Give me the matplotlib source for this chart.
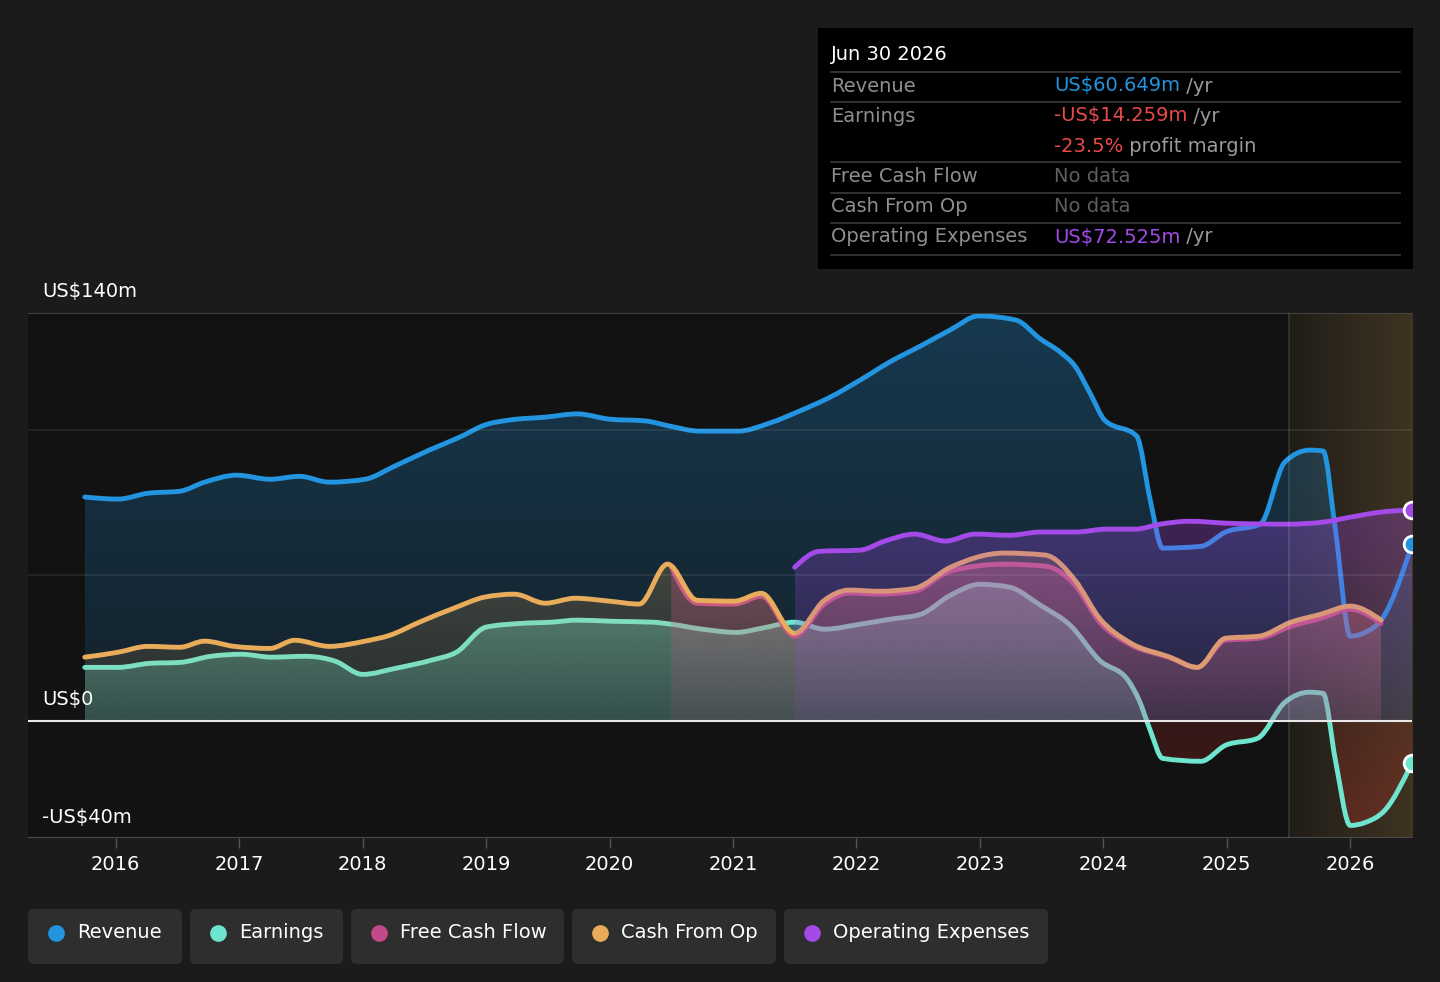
import numpy as np
import matplotlib.pyplot as plt
from matplotlib.patches import FancyBboxPatch, Rectangle, PathPatch
from matplotlib.path import Path
from matplotlib.colors import to_rgb, LinearSegmentedColormap

# ---- data (US$m) ----
rev_x = [2015.75, 2016.02, 2016.26, 2016.52, 2016.72, 2016.98, 2017.25, 2017.49, 2017.73, 2018.02,
         2018.26, 2018.54, 2018.79, 2018.99, 2019.19, 2019.48, 2019.74, 2020.0, 2020.29, 2020.49,
         2020.73, 2021.04, 2021.3, 2021.54, 2021.79, 2022.03, 2022.27, 2022.52, 2022.76, 2022.99,
         2023.29, 2023.49, 2023.65, 2023.77, 2023.9, 2024.01, 2024.27, 2024.38, 2024.48, 2024.79,
         2024.99, 2025.27, 2025.47, 2025.67, 2025.78, 2025.88, 2026.0, 2026.12, 2026.26, 2026.5]
rev_y = [76.9, 76.2, 78.2, 78.9, 82.0, 84.4, 83.0, 84.0, 82.0, 83.0,
         87.5, 93.0, 97.5, 101.6, 103.3, 104.3, 105.4, 103.6, 103.0, 101.2,
         99.5, 99.5, 102.3, 106.4, 111.2, 117.0, 123.2, 128.7, 134.2, 139.0,
         137.6, 131.1, 126.6, 121.8, 111.9, 103.3, 97.8, 75.8, 59.4, 60.0,
         64.9, 67.6, 88.9, 93.0, 92.7, 65.5, 29.2, 30.5, 35.3, 60.649]

earn_x = [2015.75, 2016.02, 2016.28, 2016.52, 2016.77, 2017.02, 2017.26, 2017.54, 2017.78, 2018.0,
          2018.27, 2018.56, 2018.76, 2019.0, 2019.29, 2019.53, 2019.74, 2020.02, 2020.35, 2020.5,
          2020.75, 2021.03, 2021.23, 2021.5, 2021.74, 2022.03, 2022.27, 2022.52, 2022.76, 2023.0,
          2023.24, 2023.49, 2023.73, 2023.97, 2024.2, 2024.29, 2024.38, 2024.48, 2024.79, 2024.99,
          2025.25, 2025.47, 2025.67, 2025.78, 2025.88, 2026.0, 2026.12, 2026.28, 2026.5]
earn_y = [18.5, 18.5, 19.9, 20.2, 22.3, 23.0, 22.0, 22.3, 20.6, 16.1,
          18.2, 21.0, 23.7, 32.3, 33.6, 34.0, 34.7, 34.3, 34.0, 33.3,
          31.6, 30.5, 31.9, 34.0, 31.6, 33.3, 35.0, 36.7, 43.2, 47.0,
          46.0, 39.8, 33.0, 20.9, 14.1, 7.2, -3.1, -12.7, -13.7, -8.2,
          -5.8, 6.5, 10.0, 9.6, -13.4, -35.7, -34.7, -30.5, -14.259]

cfo_x = [2015.75, 2016.02, 2016.26, 2016.52, 2016.72, 2016.96, 2017.25, 2017.45, 2017.73, 2018.02,
         2018.22, 2018.46, 2018.74, 2018.99, 2019.23, 2019.48, 2019.72, 2020.0, 2020.24, 2020.47,
         2020.71, 2021.01, 2021.23, 2021.5, 2021.74, 2021.94, 2022.19, 2022.47, 2022.76, 2023.2,
         2023.53, 2023.77, 2023.97, 2024.21, 2024.54, 2024.76, 2024.99, 2025.26, 2025.52, 2025.76,
         2026.0, 2026.25]
cfo_y = [22.0, 23.7, 25.7, 25.4, 27.5, 25.7, 25.0, 27.8, 25.7, 27.5,
         29.5, 34.0, 38.8, 42.6, 43.6, 40.5, 42.2, 41.2, 40.2, 53.9,
         41.5, 41.2, 43.9, 30.2, 41.5, 45.0, 44.6, 45.6, 52.8, 57.7,
         57.0, 48.4, 35.3, 27.1, 22.0, 18.5, 28.5, 29.2, 34.0, 36.7,
         39.5, 34.7]

fcf_x = [2020.5, 2020.71, 2021.01, 2021.23, 2021.5, 2021.74, 2021.94, 2022.19, 2022.47, 2022.76,
         2023.2, 2023.53, 2023.77, 2023.97, 2024.21, 2024.54, 2024.76, 2024.99, 2025.26, 2025.52,
         2025.76, 2026.0, 2026.25]
fcf_y = [53.0, 40.5, 40.2, 42.9, 29.2, 40.2, 44.0, 43.6, 44.6, 51.5,
         53.9, 53.2, 46.7, 34.0, 26.5, 21.8, 18.5, 27.8, 28.5, 32.6,
         35.3, 38.4, 33.6]

opex_x = [2021.5, 2021.7, 2022.03, 2022.23, 2022.47, 2022.72, 2022.96, 2023.24, 2023.49, 2023.78,
          2024.02, 2024.26, 2024.46, 2024.7, 2025.02, 2025.5, 2025.78, 2026.0, 2026.24, 2026.5]
opex_y = [52.8, 58.3, 58.7, 61.8, 64.2, 61.8, 64.2, 63.8, 64.9, 64.9,
          65.9, 65.9, 67.6, 68.6, 67.9, 67.6, 68.3, 70.0, 71.7, 72.525]

names = ["Revenue", "Earnings", "Free Cash Flow", "Cash From Op", "Operating Expenses"]
colors = ["#2394df", "#6ee6cf", "#c4498a", "#e8ac5a", "#a44ae8"]
year_ticks = list(range(2016, 2027))
forecast_start = 2025.5

BG = "#1b1b1b"
PLOT_BG = "#121212"
FS = 14


def smooth_path(x, y):
    """monotone-x cubic path through the points (like d3 curveMonotoneX)"""
    x = np.asarray(x, float)
    y = np.asarray(y, float)
    n = len(x)
    h = np.diff(x)
    s = np.diff(y) / h
    m = np.zeros(n)
    for i in range(1, n - 1):
        p = (s[i - 1] * h[i] + s[i] * h[i - 1]) / (h[i - 1] + h[i])
        m[i] = (np.sign(s[i - 1]) + np.sign(s[i])) * min(abs(s[i - 1]), abs(s[i]), 0.5 * abs(p))
    m[0] = (3 * s[0] - m[1]) / 2
    m[-1] = (3 * s[-1] - m[-2]) / 2
    verts = [(x[0], y[0])]
    codes = [Path.MOVETO]
    for i in range(n - 1):
        d = h[i] / 3
        verts += [(x[i] + d, y[i] + m[i] * d), (x[i + 1] - d, y[i + 1] - m[i + 1] * d), (x[i + 1], y[i + 1])]
        codes += [Path.CURVE4] * 3
    return verts, codes


def grad_image(ax, clip, color, x0, x1, y0, y1, a_near, a_far, z):
    # vertical alpha gradient: a_far at y1 (away from zero), a_near at y0 (zero)
    r, g, b = to_rgb(color)
    arr = np.zeros((256, 1, 4))
    arr[..., 0], arr[..., 1], arr[..., 2] = r, g, b
    arr[:, 0, 3] = np.linspace(a_far, a_near, 256)
    if y1 < y0:
        arr = arr[::-1]
        y0, y1 = y1, y0
    im = ax.imshow(arr, extent=[x0, x1, y0, y1], aspect="auto", origin="upper",
                   interpolation="bilinear", zorder=z)
    im.set_clip_path(clip, transform=ax.transData)


fig = plt.figure(figsize=(14.4, 9.82), dpi=100, facecolor=BG)
ax = fig.add_axes([28 / 1440, 1 - 838 / 982, 1384 / 1440, 525 / 982])
ax.set_facecolor(PLOT_BG)

# forecast region: gradient from faint to brown
grad = np.linspace(0, 1, 256).reshape(1, -1)
ax.imshow(grad, extent=[forecast_start, 2026.5, -40, 140], aspect="auto",
          cmap=LinearSegmentedColormap.from_list(
              "fc", [(0.42, 0.34, 0.2, 0.16), (0.42, 0.34, 0.2, 0.5)]),
          zorder=1.5, interpolation="bilinear")

series = [
    (rev_x, rev_y, colors[0], 0.30, 0.12),
    (earn_x, earn_y, colors[1], 0.42, 0.20),
    (fcf_x, fcf_y, colors[2], 0.35, 0.12),
    (cfo_x, cfo_y, colors[3], 0.22, 0.08),
    (opex_x, opex_y, colors[4], 0.32, 0.10),
]
z = 2
for sx, sy, c, a_far, a_near in series:
    verts, codes = smooth_path(sx, sy)
    area = Path(verts + [(sx[-1], 0), (sx[0], 0), (sx[0], 0)],
                codes + [Path.LINETO, Path.LINETO, Path.CLOSEPOLY])
    ymax = max(sy)
    ymin = min(sy)
    if ymax > 0:
        grad_image(ax, area, c, sx[0], sx[-1], 0, ymax, a_near, a_far, z)
    if ymin < 0:
        grad_image(ax, area, "#c0302a", sx[0], sx[-1], 0, ymin, 0.18, 0.32, z)
    ax.add_patch(PathPatch(Path(verts, codes), fill=False, edgecolor=c, lw=3.5,
                           capstyle="round", joinstyle="round", zorder=z + 0.5))
    z += 1

# grid lines
for v in [100, 50]:
    ax.axhline(v, color="white", alpha=0.09, lw=1.2, zorder=15)
ax.axhline(140, color="#4a4a4a", lw=1.2, zorder=15)
ax.axhline(-40, color="#4a4a4a", lw=1.5, zorder=15)
ax.axvline(forecast_start, color="white", alpha=0.13, lw=1.2, zorder=15)
ax.axhline(0, color="#e8e8e8", lw=1.5, zorder=20)

# end markers (half clipped at the right edge)
for sx, sy, c in [(rev_x, rev_y, colors[0]), (earn_x, earn_y, colors[1]), (opex_x, opex_y, colors[4])]:
    ax.plot(sx[-1], sy[-1], "o", ms=12, mfc=c, mec="white", mew=2, zorder=25)

ax.set_xlim(2015.29, 2026.5)
ax.set_ylim(-40, 140)

# axes styling
for s in ax.spines.values():
    s.set_visible(False)
ax.set_yticks([])
ax.set_xticks(year_ticks)
ax.set_xticklabels([str(y) for y in year_ticks], fontsize=FS)
ax.tick_params(axis="x", colors="#555555", length=7, width=1, pad=5, labelcolor="white")

# y labels
for txt, ypx in [("US$140m", 291), ("US$0", 700), ("-US$40m", 817)]:
    fig.text(42 / 1440, 1 - ypx / 982, txt, color="white", fontsize=FS, va="center", ha="left")

# tooltip box
tip = Rectangle((818 / 1440, 1 - 269 / 982), 595 / 1440, 241 / 982, transform=fig.transFigure,
                facecolor="black", edgecolor="none", zorder=5)
fig.patches.append(tip)
fig.text(831 / 1440, 1 - 55 / 982, "Jun 30 2026", color="white", fontsize=FS, va="center", zorder=6)
for ypx in [72, 102, 162, 193, 223, 255]:
    fig.add_artist(plt.Line2D([831 / 1440, 1400 / 1440], [1 - ypx / 982] * 2, color="#3c3c3c", lw=1.2, zorder=6))

rows = [
    ("Revenue", 86, [("US$60.649m", colors[0]), (" /yr", "#9a9a9a")]),
    ("Earnings", 116, [("-US$14.259m", "#e84a4a"), (" /yr", "#9a9a9a")]),
    ("", 146, [("-23.5%", "#e84a4a"), (" profit margin", "#9a9a9a")]),
    ("Free Cash Flow", 176, [("No data", "#5e5e5e")]),
    ("Cash From Op", 207, [("No data", "#5e5e5e")]),
    ("Operating Expenses", 237, [("US$72.525m", colors[4]), (" /yr", "#9a9a9a")]),
]
for label, ypx, parts in rows:
    fig.text(831 / 1440, 1 - ypx / 982, label, color="#8f8f8f", fontsize=FS, va="center", zorder=6)
    prev = fig.text(1054 / 1440, 1 - ypx / 982, parts[0][0], color=parts[0][1], fontsize=FS,
                    va="center", zorder=6)
    for t, c in parts[1:]:
        prev = fig.add_artist(plt.Annotation(t, xy=(1, 0.5), xycoords=prev, va="center", ha="left",
                                             color=c, fontsize=FS, zorder=6))

# legend pills
pills = [(28, 182), (190, 343), (351, 564), (572, 776), (784, 1048)]
for (x0, x1), name, c in zip(pills, names, colors):
    box = FancyBboxPatch((x0 / 1440, 1 - 964 / 982), (x1 - x0) / 1440, 55 / 982,
                         boxstyle="round,pad=0,rounding_size=0.004", mutation_aspect=1440 / 982,
                         transform=fig.transFigure, facecolor="#2e2e2e", edgecolor="none")
    fig.patches.append(box)
    fig.add_artist(plt.Line2D([(x0 + 28) / 1440], [1 - 933 / 982], marker="o", ms=11, color=c, lw=0))
    fig.text((x0 + 49) / 1440, 1 - 933 / 982, name, color="white", fontsize=FS, va="center")

fig.savefig("out.png", dpi=100, facecolor=BG)
